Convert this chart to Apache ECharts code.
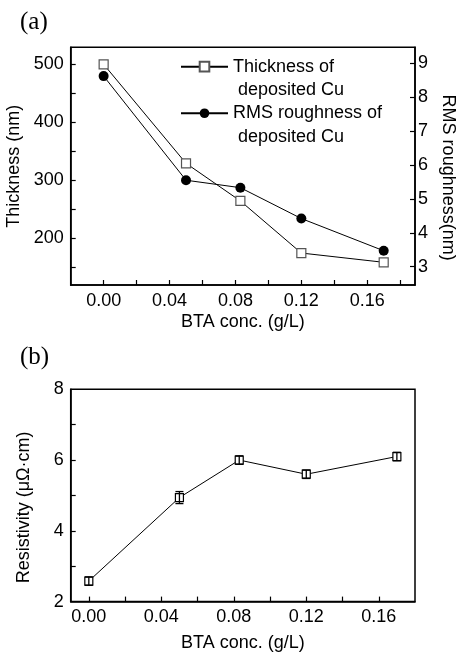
<!DOCTYPE html>
<html><head><meta charset="utf-8">
<script src="https://cdn.jsdelivr.net/npm/echarts@6/dist/echarts.min.js"></script>
<style>html,body{margin:0;padding:0;background:#fff}#c{width:456px;height:653px}</style>
</head><body><div id="c"></div>
<script>
// ---- data ----
const btaA = [0, 0.05, 0.083, 0.12, 0.17];
const thickness = [500, 329, 264, 174, 158];
const rmsRoughness = [8.62, 5.55, 5.33, 4.42, 3.47];
const btaB = [0, 0.05, 0.083, 0.12, 0.17];
const resistivity = [2.58, 4.94, 6.0, 5.6, 6.1];
const resistivityErr = [0.12, 0.17, 0.12, 0.12, 0.12];
const xLabelsA = [0, 0.04, 0.08, 0.12, 0.16];
const xTickValsA = [0, 0.02, 0.04, 0.06, 0.08, 0.10, 0.12, 0.14, 0.16, 0.18];
const xLabelsB = [0, 0.04, 0.08, 0.12, 0.16];
const xTickValsB = [0, 0.02, 0.04, 0.06, 0.08, 0.10, 0.12, 0.14, 0.16];
const thicknessLabels = [200, 300, 400, 500];
const thicknessTickVals = [150, 200, 250, 300, 350, 400, 450, 500];
const rmsLabels = [3, 4, 5, 6, 7, 8, 9];
const resLabels = [2, 4, 6, 8];
const resTickVals = [3, 4, 5, 6, 7];
const seriesNames = ['Thickness of\n deposited Cu', 'RMS roughness of\n deposited Cu', 'Resistivity'];

const FONT = "'Liberation Sans', Arial, sans-serif";
const SERIF = "'Liberation Serif', 'Times New Roman', serif";
const chart = echarts.init(document.getElementById('c'), null, {renderer: 'canvas'});

const lbl = (extra) => Object.assign({color: '#000', fontFamily: FONT, fontSize: 18}, extra);
const line = {show: true, onZero: false, lineStyle: {color: '#000', width: 1.5}};
const tick = (vals, len) => ({show: true, inside: true, length: len || 5, lineStyle: {color: '#000', width: 1.2}, customValues: vals});
const legendBox = (name, top) => ({
  data: [name], orient: 'vertical', left: 180, top: top, padding: 0,
  itemWidth: 47, itemHeight: 12, itemGap: 0,
  formatter: n => '\u00a0\n' + n,
  textStyle: {color: '#000', fontFamily: FONT, fontSize: 18, lineHeight: 23.3}
});

const option = {
  backgroundColor: '#fff',
  animation: false,
  title: [
    {text: '(a)', left: 20, top: 10, padding: 0, textStyle: {fontFamily: SERIF, fontWeight: 'normal', fontSize: 25, color: '#000'}},
    {text: '(b)', left: 20, top: 345, padding: 0, textStyle: {fontFamily: SERIF, fontWeight: 'normal', fontSize: 25, color: '#000'}}
  ],
  grid: [
    {left: 70.7, right: 41, top: 47.3, height: 237.7, outerBoundsMode: 'none', containLabel: false, show: true, borderColor: '#000', borderWidth: 1.5, backgroundColor: 'transparent'},
    {left: 70.7, right: 41, top: 389.3, height: 212.3, outerBoundsMode: 'none', containLabel: false, show: true, borderColor: '#000', borderWidth: 1.5, backgroundColor: 'transparent'}
  ],
  legend: [legendBox(seriesNames[0], 31.7), legendBox(seriesNames[1], 78.3)],
  xAxis: [
    {
      type: 'value', gridIndex: 0, min: -0.02, max: 0.189,
      axisLine: line, splitLine: {show: false},
      axisTick: tick(xTickValsA),
      axisLabel: lbl({margin: 7, customValues: xLabelsA, formatter: v => v.toFixed(2)}),
      name: 'BTA conc. (g/L)', nameLocation: 'middle', nameGap: 28,
      nameTextStyle: lbl({})
    },
    {
      type: 'value', gridIndex: 1, min: -0.01, max: 0.18,
      axisLine: line, splitLine: {show: false},
      axisTick: tick(xTickValsB),
      axisLabel: lbl({margin: 6, customValues: xLabelsB, formatter: v => v.toFixed(2)}),
      name: 'BTA conc. (g/L)', nameLocation: 'middle', nameGap: 32,
      nameTextStyle: lbl({})
    }
  ],
  yAxis: [
    {
      type: 'value', gridIndex: 0, min: 118.8, max: 529.4, position: 'left',
      axisLine: line, splitLine: {show: false},
      axisTick: tick(thicknessTickVals),
      axisLabel: lbl({margin: 7, customValues: thicknessLabels}),
      name: 'Thickness (nm)', nameLocation: 'middle', nameGap: 41, nameRotate: 90,
      nameTextStyle: lbl({})
    },
    {
      type: 'value', gridIndex: 0, min: 2.46, max: 9.47, position: 'right',
      axisLine: line, splitLine: {show: false},
      axisTick: tick(rmsLabels),
      axisLabel: lbl({margin: 3, customValues: rmsLabels}),
      name: 'RMS roughness(nm)', nameLocation: 'middle', nameGap: 23, nameRotate: -90,
      nameTextStyle: lbl({padding: [0, 0, 0, 23]})
    },
    {
      type: 'value', gridIndex: 1, min: 2, max: 8, position: 'left',
      axisLine: line, splitLine: {show: false},
      axisTick: tick(resTickVals),
      axisLabel: lbl({margin: 7, customValues: resLabels}),
      name: 'Resistivity (μΩ·cm)', nameLocation: 'middle', nameGap: 38, nameRotate: 90,
      nameTextStyle: lbl({padding: [0, 24, 0, 0]})
    }
  ],
  series: [
    {
      name: seriesNames[0], type: 'line', xAxisIndex: 0, yAxisIndex: 0,
      data: btaA.map((x, i) => [x, thickness[i]]),
      symbol: 'rect', symbolSize: 9,
      itemStyle: {color: '#fff', borderColor: '#555', borderWidth: 1.2},
      lineStyle: {color: '#000', width: 1}, z: 3
    },
    {
      name: seriesNames[1], type: 'line', xAxisIndex: 0, yAxisIndex: 1,
      data: btaA.map((x, i) => [x, rmsRoughness[i]]),
      symbol: 'circle', symbolSize: 10,
      itemStyle: {color: '#000'},
      lineStyle: {color: '#000', width: 1}, z: 2
    },
    {
      name: seriesNames[2], type: 'line', xAxisIndex: 1, yAxisIndex: 2,
      data: btaB.map((x, i) => [x, resistivity[i]]),
      symbol: 'rect', symbolSize: 8,
      itemStyle: {color: '#fff', borderColor: '#000', borderWidth: 1.2},
      lineStyle: {color: '#000', width: 1}, z: 3
    },
    {
      name: 'Resistivity error', type: 'custom', xAxisIndex: 1, yAxisIndex: 2,
      data: btaB.map((x, i) => [x, resistivity[i], resistivityErr[i]]),
      z: 4,
      renderItem: function (params, api) {
        const x = api.value(0), y = api.value(1), e = api.value(2);
        const t = api.coord([x, y + e]), b = api.coord([x, y - e]);
        const hw = 4;
        const st = {stroke: '#000', lineWidth: 1.3};
        return {type: 'group', children: [
          {type: 'line', shape: {x1: t[0], y1: t[1], x2: b[0], y2: b[1]}, style: st},
          {type: 'line', shape: {x1: t[0] - hw, y1: t[1], x2: t[0] + hw, y2: t[1]}, style: st},
          {type: 'line', shape: {x1: b[0] - hw, y1: b[1], x2: b[0] + hw, y2: b[1]}, style: st}
        ]};
      }
    }
  ]
};
chart.setOption(option);
</script>
</body></html>
